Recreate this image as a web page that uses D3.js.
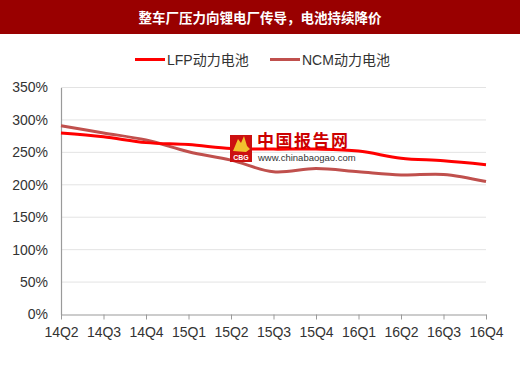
<!DOCTYPE html>
<html>
<head>
<meta charset="utf-8">
<script src="https://cdn.jsdelivr.net/npm/d3@7"></script>
<style>
  body { margin: 0; background: #fff; }
  svg { display: block; font-family: "Liberation Sans", Arial, sans-serif; }
</style>
</head>
<body>
<svg id="chart" width="520" height="368"></svg>
<script>
// chart data
const quarters = ['14Q2', '14Q3', '14Q4', '15Q1', '15Q2', '15Q3', '15Q4', '16Q1', '16Q2', '16Q3', '16Q4'];
const lfpValues = [280, 274, 265, 262, 256, 255, 255, 252, 241, 237, 231];
const ncmValues = [291, 280, 269, 251, 238, 220, 225, 220, 215, 216, 205];
const yTicks = [0, 50, 100, 150, 200, 250, 300, 350];
const seriesNames = ['LFP动力电池', 'NCM动力电池'];
const titleText = '整车厂压力向锂电厂传导，电池持续降价';

const svg = d3.select('#chart');
const margin = { left: 61, right: 34, top: 87.5, bottom: 53.5 };
const width = 520, height = 368;

const x = d3.scalePoint().domain(quarters).range([margin.left, width - margin.right]);
const y = d3.scaleLinear().domain([0, 350]).range([height - margin.bottom, margin.top]);

// title bar
svg.append('rect').attr('x', 0).attr('y', 0).attr('width', width).attr('height', 34).attr('fill', '#990000');
svg.append('text')
    .attr('x', width / 2).attr('y', 17)
    .attr('text-anchor', 'middle').attr('dominant-baseline', 'central')
    .attr('fill', '#fff').attr('font-size', 13.5).attr('font-weight', 'bold')
    .attr('font-family', '"Noto Sans CJK SC", sans-serif')
    .text(titleText);

// grid lines
svg.append('g').selectAll('line')
    .data(yTicks.filter(d => d > 0))
    .enter().append('line')
    .attr('x1', margin.left).attr('x2', width - margin.right)
    .attr('y1', d => y(d)).attr('y2', d => y(d))
    .attr('stroke', '#e3e3e3').attr('stroke-width', 1);

// y axis
const yAxis = svg.append('g')
    .attr('transform', `translate(${margin.left},0)`)
    .call(d3.axisLeft(y).tickValues(yTicks).tickFormat(d => d + '%').tickSize(0).tickPadding(13));
yAxis.select('.domain').attr('stroke', '#9a9a9a').attr('stroke-width', 1.2);
yAxis.selectAll('text').attr('font-size', 14).attr('fill', '#333');

// x axis
const xAxis = svg.append('g')
    .attr('transform', `translate(0,${y(0)})`)
    .call(d3.axisBottom(x).tickSize(5).tickSizeOuter(0).tickPadding(8));
xAxis.select('.domain').attr('stroke', '#9a9a9a').attr('stroke-width', 1.2);
xAxis.selectAll('.tick line').attr('stroke', '#9a9a9a');
xAxis.selectAll('text').attr('font-size', 14).attr('fill', '#333');

// watermark
const wm = svg.append('g');
wm.append('rect').attr('x', 230).attr('y', 135).attr('width', 22).attr('height', 27).attr('fill', '#cc1010');
wm.append('path').attr('d', 'M233,151 L238,139 L241,143 L244,136 L247,146 L250,149 L246,152 Z').attr('fill', '#f2c12e');
wm.append('text').attr('x', 241).attr('y', 160).attr('text-anchor', 'middle')
    .attr('font-size', 7).attr('font-weight', 'bold').attr('fill', '#fff').text('CBG');
wm.append('text').attr('x', 257).attr('y', 147)
    .attr('font-size', 17).attr('font-weight', 'bold').attr('fill', '#cc0000')
    .attr('font-family', '"Noto Sans CJK SC", sans-serif')
    .attr('letter-spacing', 1.5)
    .text('中国报告网');

// lines
const line = d3.line()
    .x((d, i) => x(quarters[i]))
    .y(d => y(d))
    .curve(d3.curveCatmullRom.alpha(0.5));

svg.append('path').datum(ncmValues)
    .attr('d', line).attr('fill', 'none')
    .attr('stroke', '#c0504d').attr('stroke-width', 3);
svg.append('path').datum(lfpValues)
    .attr('d', line).attr('fill', 'none')
    .attr('stroke', '#ff0000').attr('stroke-width', 3);

wm.raise();
svg.append('text').attr('x', 258).attr('y', 160.5)
    .attr('font-size', 9.5).attr('fill', '#333')
    .text('www.chinabaogao.com');

// legend
const legendItems = [
    { name: seriesNames[0], color: '#ff0000', x: 135 },
    { name: seriesNames[1], color: '#c0504d', x: 270 }
];
const legend = svg.append('g').selectAll('g').data(legendItems).enter().append('g')
    .attr('transform', d => `translate(${d.x},59.5)`);
legend.append('line').attr('x1', 0).attr('x2', 30).attr('y1', 0).attr('y2', 0)
    .attr('stroke', d => d.color).attr('stroke-width', 3);
legend.append('text').attr('x', 32).attr('y', 0).attr('dominant-baseline', 'central')
    .attr('font-size', 14).attr('fill', '#333')
    .attr('font-family', '"Liberation Sans", "Noto Sans CJK SC", sans-serif')
    .text(d => d.name);
</script>
</body>
</html>
